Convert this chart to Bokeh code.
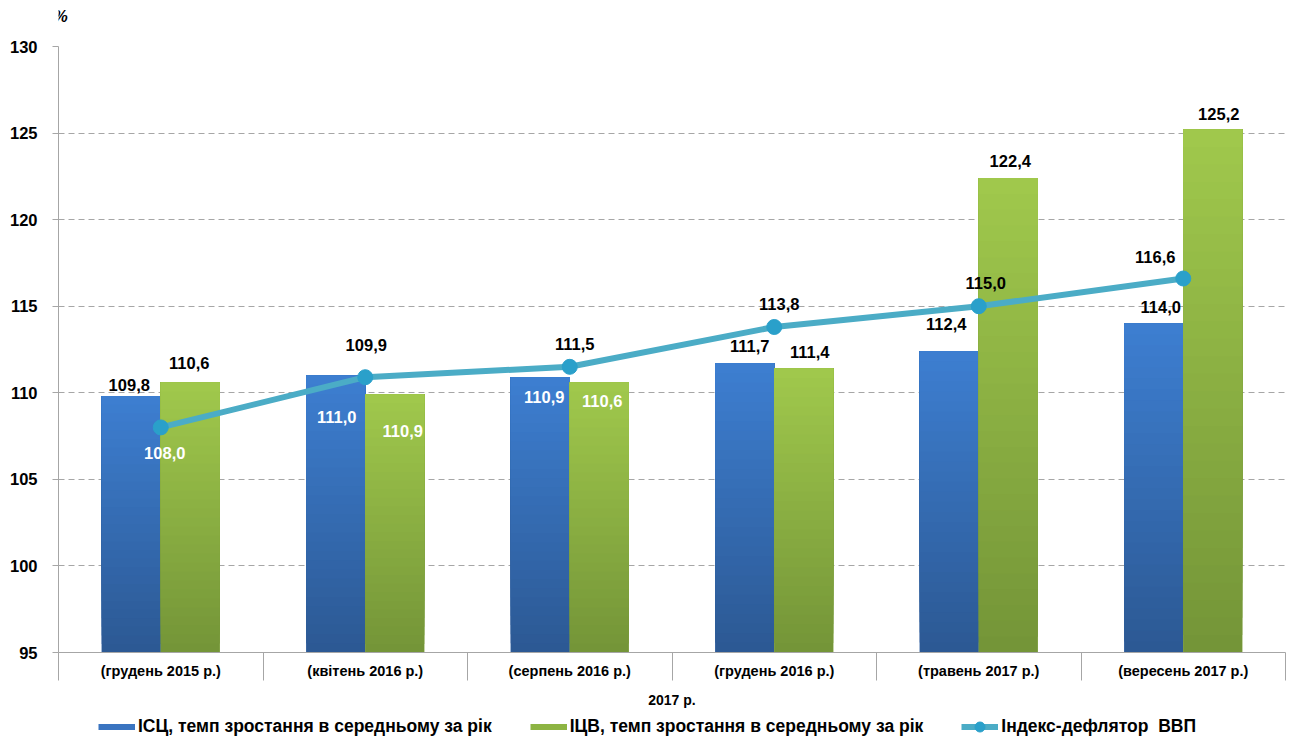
from bokeh.plotting import figure
from bokeh.layouts import column
from bokeh.models import ColumnDataSource, FixedTicker, Legend, LegendItem, Range1d, Label
from bokeh.core.properties import value
from bokeh.embed import file_html
from bokeh.resources import INLINE

# ---------------- data ----------------
categories = ["(грудень 2015 р.)", "(квітень 2016 р.)", "(серпень 2016 р.)",
              "(грудень 2016 р.)", "(травень 2017 р.)", "(вересень 2017 р.)"]
cpi = [109.8, 111.0, 110.9, 111.7, 112.4, 114.0]
wpi = [110.6, 109.9, 110.6, 111.4, 122.4, 125.2]
deflator = [108.0, 110.9, 111.5, 113.8, 115.0, 116.6]
cpi_labels = ["109,8", "111,0", "110,9", "111,7", "112,4", "114,0"]
wpi_labels = ["110,6", "110,9", "110,6", "111,4", "122,4", "125,2"]
deflator_labels = ["108,0", "109,9", "111,5", "113,8", "115,0", "116,6"]
series_names = ["ІСЦ, темп зростання в середньому за рік",
                "ІЦВ, темп зростання в середньому за рік",
                "Індекс-дефлятор  ВВП"]
y_ticks = [95, 100, 105, 110, 115, 120, 125, 130]
group_label = "2017 р."
unit_label = "%"

# ---------------- layout / style ----------------
FONT = "Liberation Sans"
BAR_W = 0.2885
BASE = 95
BLUE_TOP, BLUE_BOT = "#3d7ed0", "#2c5994"
GREEN_TOP, GREEN_BOT = "#a0c84c", "#749538"
BLUE_LEG, GREEN_LEG = "#3a74c0", "#8db443"
LINE_C = "#4bacc6"
MARK_C = "#2aa0ca"
GRID_C = "#a6a6a6"
# label pixel offsets (dx right, dy down) and colours
cpi_dx = [-2, 1, 4, 5, -3, 7]
cpi_dy = [-11, 42, 20, -17, -27, -17]
cpi_col = ["black", "white", "white", "black", "black", "black"]
wpi_dx = [-1, 8, 3, 6, 2, 6]
wpi_dy = [-19, 36, 19, -17, -17, -16]
wpi_col = ["black", "white", "white", "black", "black", "black"]
def_dx = [4, 1, 5, 5, 7, -28]
def_dy = [26, -32, -23, -23, -23, -22]
def_col = ["white", "black", "black", "black", "black", "black"]


def hex2rgb(h):
    h = h.lstrip("#")
    return tuple(int(h[i:i + 2], 16) for i in (0, 2, 4))


def mix(c1, c2, t):
    a, b = hex2rgb(c1), hex2rgb(c2)
    return "#%02x%02x%02x" % tuple(int(round(a[i] + (b[i] - a[i]) * t)) for i in range(3))


n = len(categories)
centers = [i + 0.5 for i in range(n)]
x_cpi = [c - BAR_W / 2 for c in centers]
x_wpi = [c + BAR_W / 2 for c in centers]

# ---------------- header strip with the unit sign ----------------
ph = figure(width=1295, height=30, x_range=Range1d(0, 1), y_range=Range1d(0, 1),
            output_backend="svg", toolbar_location=None,
            x_axis_location=None, y_axis_location=None,
            min_border_left=58, min_border_right=10, min_border_top=0, min_border_bottom=0)
ph.outline_line_color = None
ph.grid.visible = False
ph.add_layout(Label(x=0, y=0.47, x_offset=2, text=unit_label, text_font=FONT,
                    text_font_style="bold italic", text_font_size="16px",
                    text_color="black", text_align="center", text_baseline="middle"))

# ---------------- main chart ----------------
p = figure(width=1295, height=682, x_range=Range1d(0, n), y_range=Range1d(BASE, 130),
           output_backend="svg", toolbar_location=None,
           min_border_left=58, min_border_right=10, min_border_top=16, min_border_bottom=60)
p.outline_line_color = None
p.background_fill_color = "white"

# grid
p.xgrid.visible = False
p.ygrid.ticker = FixedTicker(ticks=y_ticks)
p.ygrid.grid_line_color = GRID_C
p.ygrid.grid_line_dash = "6 4"
p.ygrid.grid_line_width = 1

# bars: base + gradient bands
NB = 30


def gradient_bars(xs, vals, c_bot, c_top):
    p.vbar(x=xs, top=vals, bottom=BASE, width=BAR_W,
           fill_color=mix(c_bot, c_top, 0.5), line_color=None)
    bx, bt, bb, bc = [], [], [], []
    for k in range(NB):
        for x, v in zip(xs, vals):
            bx.append(x)
            bt.append(v)
            bb.append(BASE + (v - BASE) * k / NB)
            bc.append(mix(c_bot, c_top, k / (NB - 1)))
    src = ColumnDataSource(dict(x=bx, top=bt, bottom=bb, color=bc))
    p.vbar(x="x", top="top", bottom="bottom", width=BAR_W, fill_color="color",
           line_color=None, source=src)


gradient_bars(x_cpi, cpi, BLUE_BOT, BLUE_TOP)
gradient_bars(x_wpi, wpi, GREEN_BOT, GREEN_TOP)

p.line(centers, deflator, line_color=LINE_C, line_width=6)
p.scatter(centers, deflator, size=15, fill_color=MARK_C, line_color=MARK_C)

# value labels
lx, ly, lt, ldx, ldy, lc = [], [], [], [], [], []
for xs, vals, labs, dxs, dys, cols in [
        (x_cpi, cpi, cpi_labels, cpi_dx, cpi_dy, cpi_col),
        (x_wpi, wpi, wpi_labels, wpi_dx, wpi_dy, wpi_col),
        (centers, deflator, deflator_labels, def_dx, def_dy, def_col)]:
    lx += list(xs); ly += list(vals); lt += list(labs)
    ldx += list(dxs); ldy += list(dys); lc += list(cols)
lab_src = ColumnDataSource(dict(x=lx, y=ly, text=lt, dx=ldx, dy=ldy, color=lc))
p.text(x="x", y="y", text="text", x_offset="dx", y_offset="dy", text_color="color",
       text_font=value(FONT), text_font_style="bold", text_font_size="16.5px",
       text_align="center", text_baseline="middle", source=lab_src)

# y axis
ya = p.yaxis[0]
ya.ticker = FixedTicker(ticks=y_ticks)
ya.major_label_text_font = FONT
ya.major_label_text_font_style = "bold"
ya.major_label_text_font_size = "16.5px"
ya.major_label_text_color = "black"
ya.major_label_standoff = 15
ya.major_tick_out = 6
ya.major_tick_in = 0
ya.minor_tick_line_color = None
ya.major_tick_line_color = GRID_C
ya.axis_line_color = GRID_C

# x axis
xa = p.xaxis[0]
xa.ticker = FixedTicker(ticks=centers, minor_ticks=list(range(n + 1)))
xa.major_label_overrides = {c: lab for c, lab in zip(centers, categories)}
xa.major_label_text_font = FONT
xa.major_label_text_font_style = "bold"
xa.major_label_text_font_size = "14.5px"
xa.major_label_text_color = "black"
xa.major_label_standoff = -18
xa.major_tick_out = 0
xa.major_tick_in = 0
xa.major_tick_line_color = None
xa.minor_tick_out = 28
xa.minor_tick_in = 0
xa.minor_tick_line_color = GRID_C
xa.axis_line_color = GRID_C
xa.axis_label = group_label
xa.axis_label_text_font = FONT
xa.axis_label_text_font_style = "bold"
xa.axis_label_text_font_size = "14px"
xa.axis_label_text_color = "black"
xa.axis_label_standoff = 10

# ---------------- legend strip (separate small figure) ----------------
pl = figure(width=1295, height=28, x_range=Range1d(0, 1), y_range=Range1d(0, 1),
            output_backend="svg", toolbar_location=None,
            x_axis_location=None, y_axis_location=None,
            min_border_left=58, min_border_right=10, min_border_top=0, min_border_bottom=0)
pl.outline_line_color = None
pl.grid.visible = False
# legend-only renderers, their points lie outside the strip's visible range
off_x, off_y = [5, 6], [-5, -5]
leg_cpi = pl.line(x=off_x, y=off_y, line_color=BLUE_LEG, line_width=6)
leg_wpi = pl.line(x=off_x, y=off_y, line_color=GREEN_LEG, line_width=6)
leg_def_l = pl.line(x=off_x, y=off_y, line_color=LINE_C, line_width=6)
leg_def_m = pl.scatter(x=off_x, y=off_y, size=15, fill_color=MARK_C, line_color=MARK_C)

legend = Legend(items=[LegendItem(label=series_names[0], renderers=[leg_cpi]),
                       LegendItem(label=series_names[1], renderers=[leg_wpi]),
                       LegendItem(label=series_names[2], renderers=[leg_def_l, leg_def_m])],
                location=(40, 1), orientation="horizontal", border_line_color=None,
                background_fill_alpha=0, padding=0, margin=0, spacing=38,
                glyph_width=37, glyph_height=25, label_standoff=3,
                label_text_font=FONT, label_text_font_style="bold",
                label_text_font_size="17.5px", label_text_color="black")
pl.add_layout(legend)

layout = column(ph, p, pl, spacing=0)
open("out.html", "w").write(file_html(layout, INLINE))
